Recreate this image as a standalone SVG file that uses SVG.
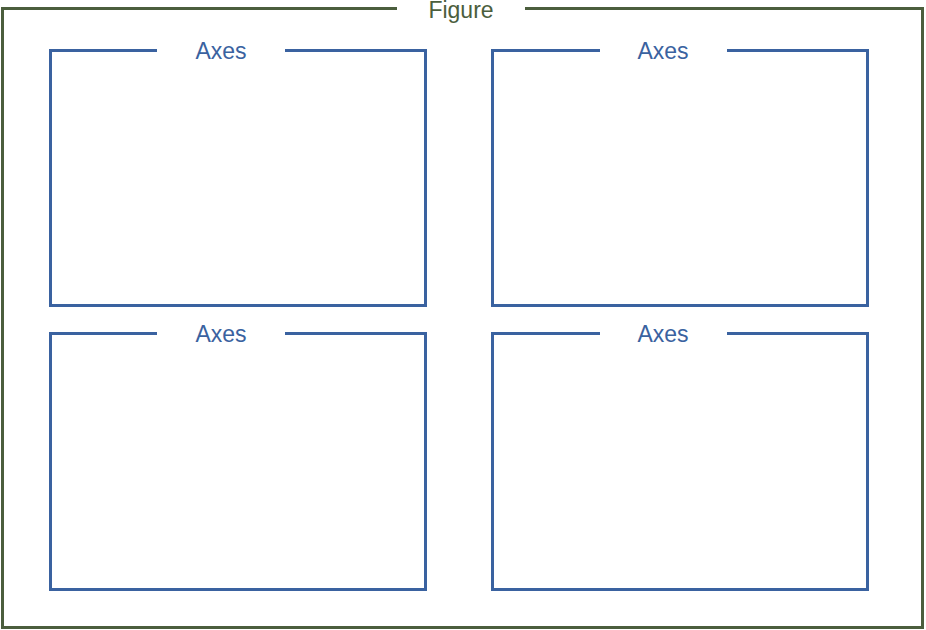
<svg xmlns="http://www.w3.org/2000/svg" width="926" height="630" viewBox="0 0 926 630">
<style>
.fig{fill:none;stroke:#4b5e3d;stroke-width:3}
.ax{fill:none;stroke:#3a62a0;stroke-width:3}
.ft{font-family:"Liberation Sans",Arial,sans-serif;font-size:23px;fill:#4b5e3d;text-anchor:middle}
.at{font-family:"Liberation Sans",Arial,sans-serif;font-size:23px;fill:#3a62a0;text-anchor:middle}
</style>
<rect width="926" height="630" fill="#fff"/>
<g id="figure">
<path class="fig" d="M397 8.5H2.5V627.5H922.5V8.5H525"/>
<text class="ft" x="461" y="18">Figure</text>
</g>
<g id="axes1">
<path class="ax" d="M157 50.5H50.5V305.5H425.5V50.5H285"/>
<text class="at" x="221" y="58.5">Axes</text>
</g>
<g id="axes2">
<path class="ax" d="M600 50.5H492.5V305.5H867.5V50.5H727"/>
<text class="at" x="663" y="58.5">Axes</text>
</g>
<g id="axes3">
<path class="ax" d="M157 333.5H50.5V589.5H425.5V333.5H285"/>
<text class="at" x="221" y="341.5">Axes</text>
</g>
<g id="axes4">
<path class="ax" d="M600 333.5H492.5V589.5H867.5V333.5H727"/>
<text class="at" x="663" y="341.5">Axes</text>
</g>
<g id="connectors"/>
</svg>
